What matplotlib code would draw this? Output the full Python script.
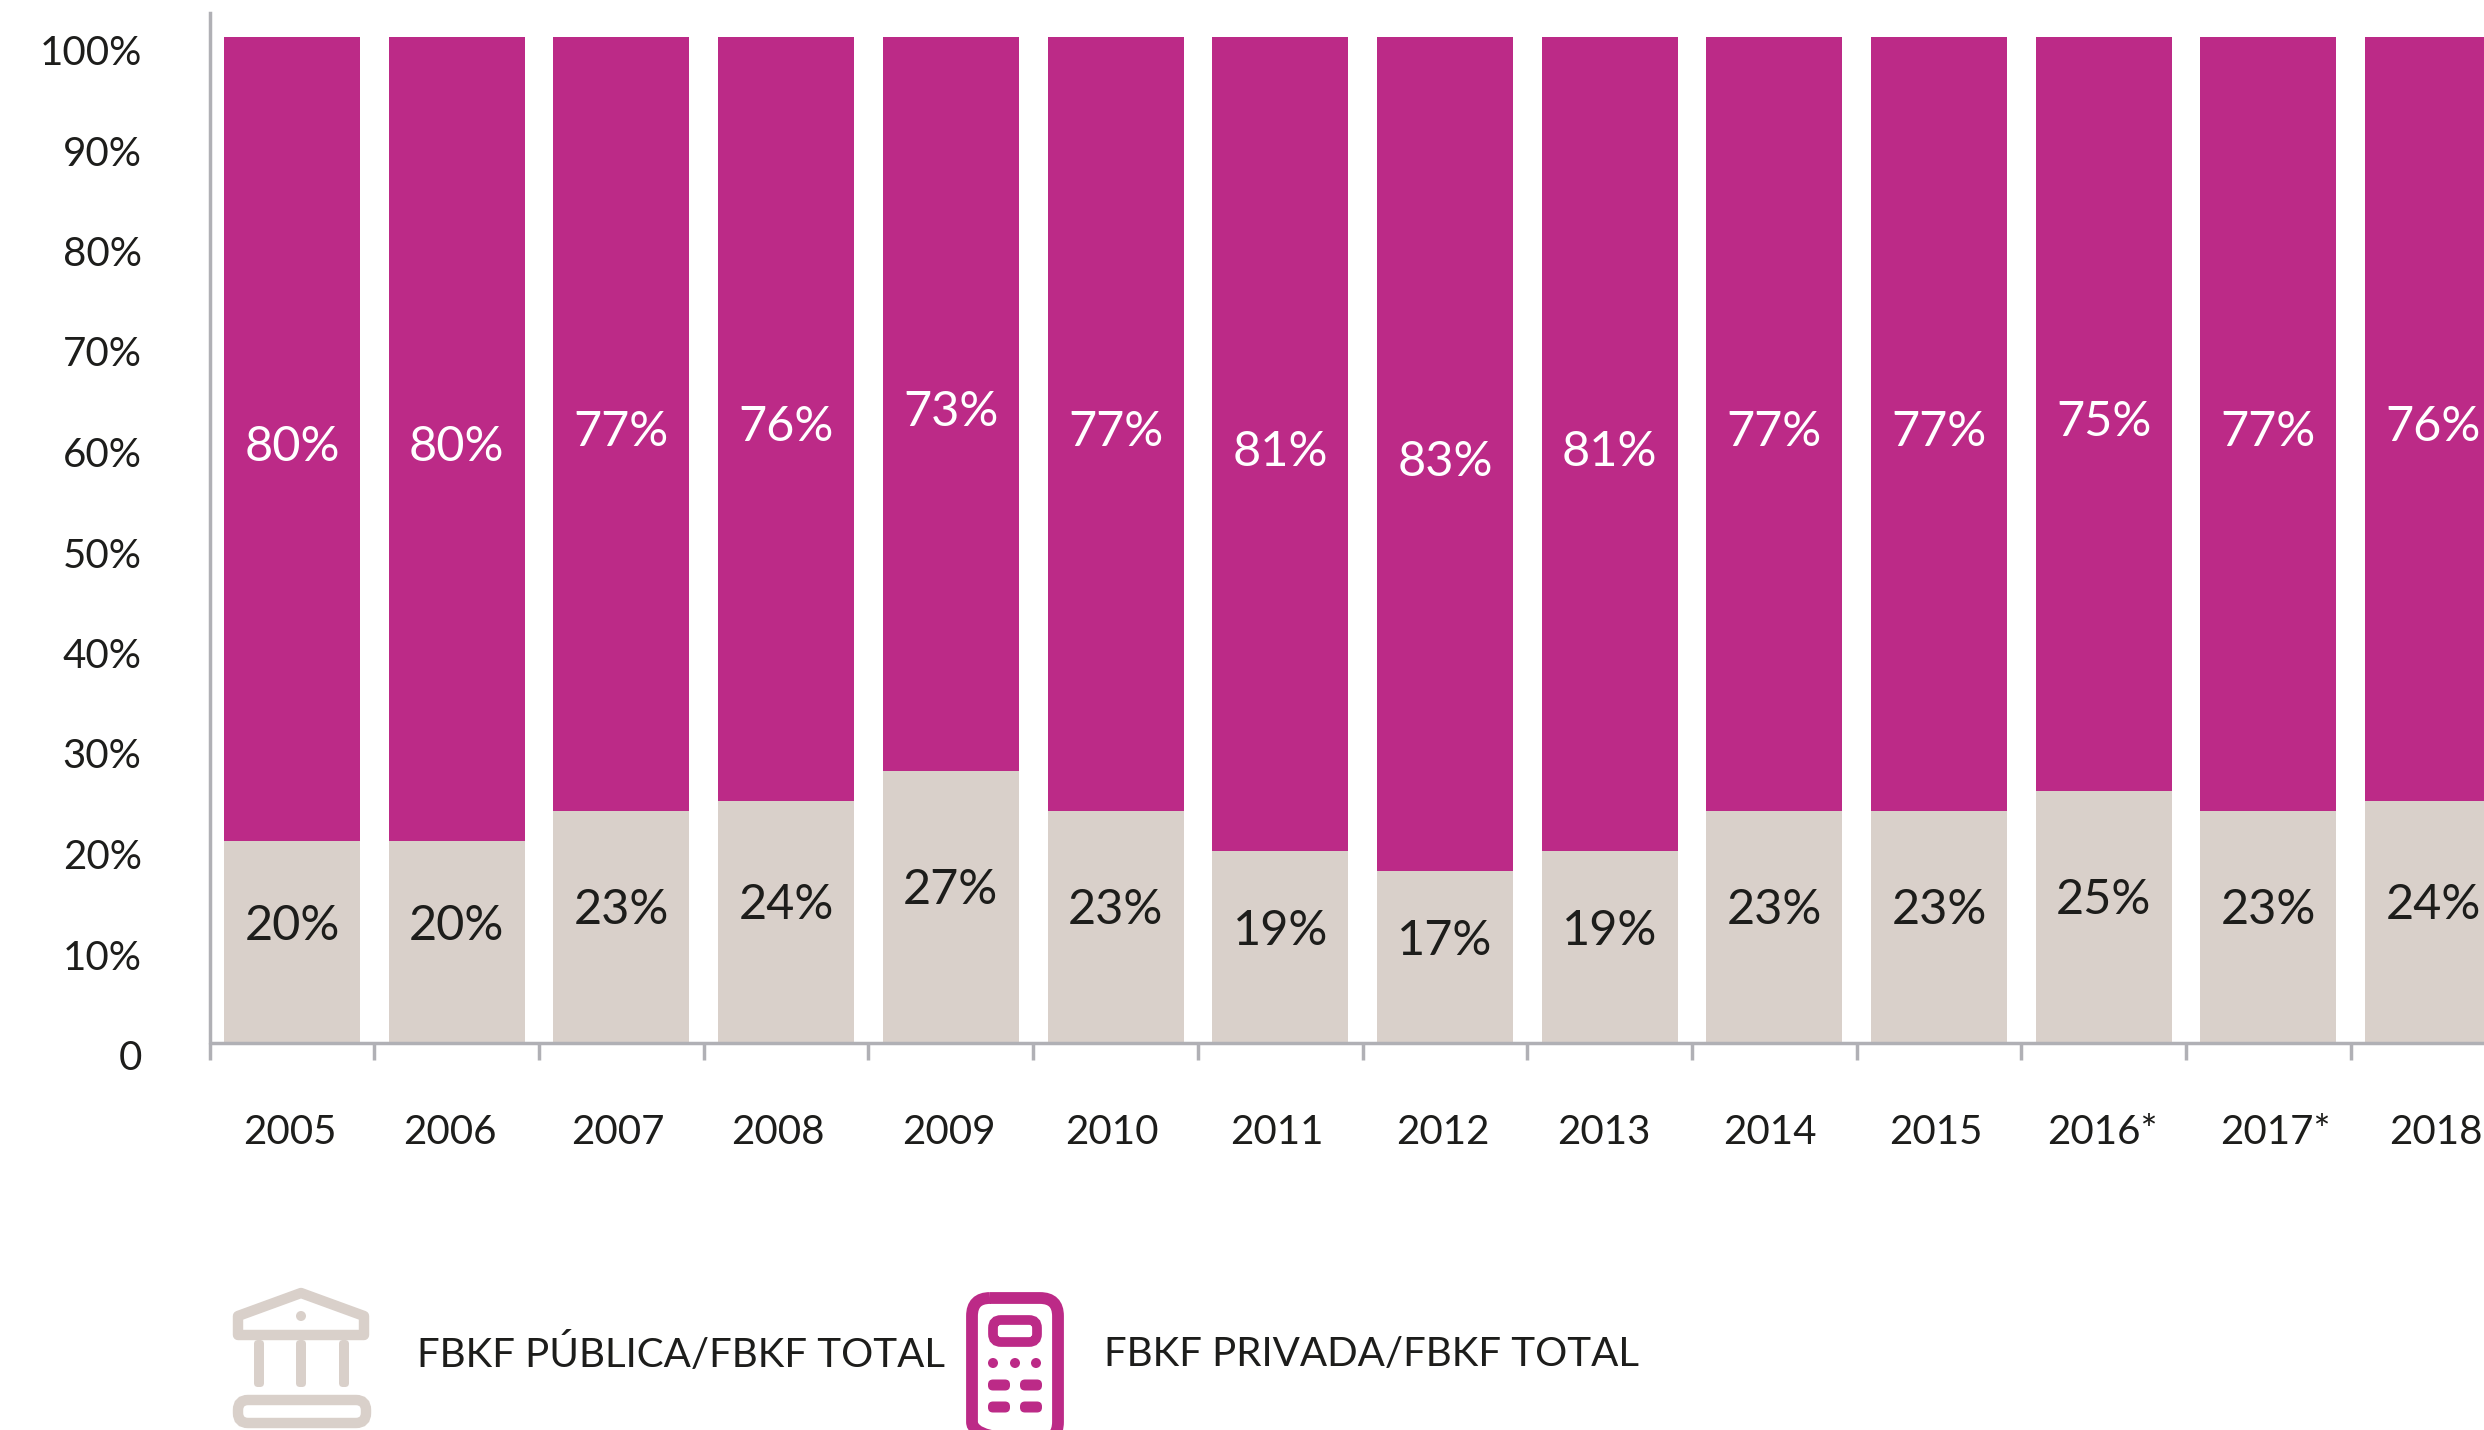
import matplotlib
matplotlib.use("Agg")
import matplotlib.pyplot as plt
from matplotlib.patches import FancyBboxPatch, Polygon, Ellipse, Rectangle
from matplotlib.transforms import ScaledTranslation

# Shares of gross fixed capital formation, in percent
years = ["2005", "2006", "2007", "2008", "2009", "2010", "2011", "2012",
         "2013", "2014", "2015", "2016*", "2017*", "2018"]
publica = [20, 20, 23, 24, 27, 23, 19, 17, 19, 23, 23, 25, 23, 24]
privada = [80, 80, 77, 76, 73, 77, 81, 83, 81, 77, 77, 75, 77, 76]
y_labels = ["0", "10%", "20%", "30%", "40%", "50%", "60%", "70%", "80%", "90%", "100%"]
legend_publica = "FBKF PÚBLICA/FBKF TOTAL"
legend_privada = "FBKF PRIVADA/FBKF TOTAL"

# Hand-set nudges for the year labels, in pixels
year_nudge = [-2, -7, -4, -8, -2, -4, -3, -2, -6, -4, -3, -1, 7, 3]

PURPLE = "#BC2A87"
BEIGE = "#D9D0CA"
INK = "#1D1D1B"
AXIS = "#B0B0B5"

W, H = 2484, 1430
plt.rcParams["font.family"] = ["Lato", "DejaVu Sans"]
fig = plt.figure(figsize=(W / 100, H / 100), dpi=100, facecolor="white")

left, zero_y, full_y, top_y = 209.7, 1042.0, 37.0, 13.0
ax = fig.add_axes([left / W, 1 - zero_y / H, 1 - left / W, (zero_y - top_y) / H])
step = 164.7
ax.set_xlim(-0.5, (W - left) / step - 0.5)
ax.set_ylim(0, 100 * (zero_y - top_y) / (zero_y - full_y))

xs = list(range(len(years)))
ax.bar(xs, publica, width=0.826, color=BEIGE, linewidth=0)
ax.bar(xs, privada, width=0.826, bottom=publica, color=PURPLE, linewidth=0)

for x, a, b in zip(xs, publica, privada):
    ax.annotate(f"{a}%", (x, a / 2), xytext=(0, 16), textcoords="offset pixels",
                ha="center", va="center", fontsize=35, color=INK)
    ax.annotate(f"{b}%", (x, a + b / 2), xytext=(0, -8), textcoords="offset pixels",
                ha="center", va="center", fontsize=35, color="white")

# Axis lines and ticks
for side in ("top", "right"):
    ax.spines[side].set_visible(False)
for side in ("left", "bottom"):
    ax.spines[side].set_color(AXIS)
    ax.spines[side].set_linewidth(2.5)
ax.spines["bottom"].set_position(("outward", 1))
ax.spines["bottom"].set_capstyle("butt")

ax.set_xticks([x - 0.5 for x in xs], labels=[""] * len(xs))
ax.tick_params(axis="x", length=12, width=2.5, color=AXIS)
ax.set_yticks(range(0, 101, 10), labels=y_labels)
ax.tick_params(axis="y", length=0, pad=49, labelsize=29, labelcolor=INK)
shift = ScaledTranslation(0, -13 / 100, fig.dpi_scale_trans)
for lab in ax.get_yticklabels():
    lab.set_transform(lab.get_transform() + shift)

for x, name, dx in zip(xs, years, year_nudge):
    ax.annotate(name, (x, 0), xycoords=ax.get_xaxis_transform(),
                xytext=(dx, -90), textcoords="offset pixels",
                ha="center", va="center", fontsize=29, color=INK,
                annotation_clip=False)

# Overlay in pixel coordinates for the legend pictograms and captions
ov = fig.add_axes([0, 0, 1, 1], facecolor="none")
ov.set_xlim(0, W)
ov.set_ylim(H, 0)
ov.axis("off")


def rounded(x0, y0, x1, y1, r, **kw):
    ov.add_patch(FancyBboxPatch((x0 + r, y0 + r), x1 - x0 - 2 * r, y1 - y0 - 2 * r,
                                boxstyle=f"round,pad={r},rounding_size={r}", **kw))


# Bank pictogram
ov.add_patch(Polygon([(301, 1293), (364, 1316), (364, 1335), (238, 1335), (238, 1316)],
                     closed=True, fill=False, edgecolor=BEIGE, linewidth=7.5, joinstyle="round"))
ov.add_patch(Ellipse((301, 1316), 10, 10, color=BEIGE, linewidth=0))
for cx in (259, 301, 344):
    rounded(cx - 5, 1340, cx + 5, 1387, 4, facecolor=BEIGE, edgecolor="none")
rounded(238, 1400, 366, 1423, 10, fill=False, edgecolor=BEIGE, linewidth=7.5)

# Calculator pictogram
rounded(972, 1298, 1058, 1440, 18, fill=False, edgecolor=PURPLE, linewidth=8.5)
rounded(993, 1320, 1037, 1342, 8, fill=False, edgecolor=PURPLE, linewidth=7)
for cx in (993, 1015, 1036):
    ov.add_patch(Ellipse((cx, 1363), 10, 10, color=PURPLE, linewidth=0))
for cy in (1385, 1407):
    for x0, x1 in ((988, 1010), (1020, 1042)):
        rounded(x0, cy - 5.5, x1, cy + 5.5, 5, facecolor=PURPLE, edgecolor="none")

ov.text(417, 1354, legend_publica, ha="left", va="center", fontsize=29, color=INK)
ov.text(1104, 1354, legend_privada, ha="left", va="center", fontsize=29, color=INK)

fig.savefig("out.png", dpi=100, facecolor="white")
